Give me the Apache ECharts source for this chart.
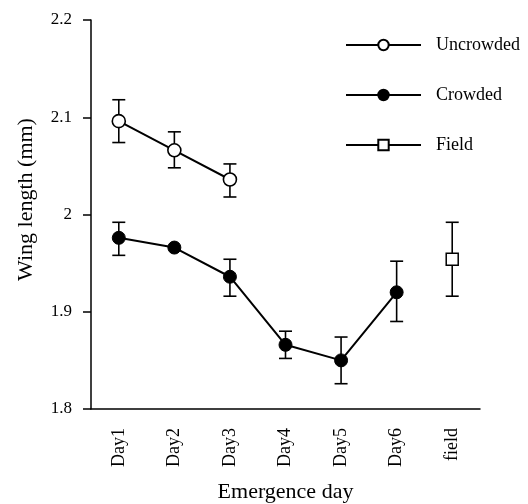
<!DOCTYPE html>
<html>
<head>
<meta charset="utf-8">
<script src="https://cdn.jsdelivr.net/npm/echarts@6/dist/echarts.min.js"></script>
<style>
  html, body { margin: 0; padding: 0; background: #fff; }
  #chart { width: 528px; height: 504px; }
</style>
</head>
<body>
<div id="chart"></div>
<script>
var days = ['Day1', 'Day2', 'Day3', 'Day4', 'Day5', 'Day6', 'field'];

// mean values (null = no point)
var uncrowded = [2.096, 2.066, 2.036, null, null, null, null];
var crowded = [1.976, 1.966, 1.936, 1.866, 1.850, 1.920, null];
var field = [null, null, null, null, null, null, 1.954];

// error bars: [category index, low, high]
var uncrowdedErr = [[0, 2.074, 2.118], [1, 2.048, 2.085], [2, 2.018, 2.052]];
var crowdedErr = [[0, 1.958, 1.992], [2, 1.916, 1.954], [3, 1.852, 1.880], [4, 1.826, 1.874], [5, 1.890, 1.952]];
var fieldErr = [[6, 1.916, 1.992]];

var fontFam = '"Liberation Serif", "DejaVu Serif", serif';

function errorBar(params, api) {
    var x = api.value(0);
    var lo = api.coord([x, api.value(1)]);
    var hi = api.coord([x, api.value(2)]);
    var half = 6.5;
    var style = { stroke: '#000', lineWidth: 1.6 };
    return {
        type: 'group',
        children: [
            { type: 'line', shape: { x1: lo[0], y1: lo[1], x2: hi[0], y2: hi[1] }, style: style },
            { type: 'line', shape: { x1: lo[0] - half, y1: lo[1], x2: lo[0] + half, y2: lo[1] }, style: style },
            { type: 'line', shape: { x1: hi[0] - half, y1: hi[1], x2: hi[0] + half, y2: hi[1] }, style: style }
        ]
    };
}

var myChart = echarts.init(document.getElementById('chart'));
var option = {
    animation: false,
    textStyle: { fontFamily: fontFam },
    grid: { left: 91, right: 48, top: 20, bottom: 95, outerBoundsMode: 'none' },
    legend: {
        orient: 'vertical',
        left: 340,
        top: 31,
        itemWidth: 75,
        itemHeight: 13,
        itemGap: 32,
        data: ['Uncrowded', 'Crowded', 'Field'],
        textStyle: { fontFamily: fontFam, fontSize: 18, color: '#000', padding: [0, 0, 0, 10] }
    },
    xAxis: {
        type: 'category',
        data: days,
        boundaryGap: true,
        name: 'Emergence day',
        nameLocation: 'middle',
        nameGap: 72,
        nameTextStyle: { fontFamily: fontFam, fontSize: 22, color: '#000' },
        axisLine: { lineStyle: { color: '#000', width: 1.5 } },
        axisTick: { alignWithLabel: true, length: 8, lineStyle: { color: '#000', width: 1.5 } },
        axisLabel: { rotate: 90, margin: 19, fontFamily: fontFam, fontSize: 18, color: '#000' },
        splitLine: { show: false }
    },
    yAxis: {
        type: 'value',
        min: 1.8,
        max: 2.2,
        interval: 0.1,
        name: 'Wing length (mm)',
        nameLocation: 'middle',
        nameGap: 54,
        nameTextStyle: { fontFamily: fontFam, fontSize: 22, color: '#000', padding: [0, 0, 0, 30] },
        axisLine: { show: true, lineStyle: { color: '#000', width: 1.5 } },
        axisTick: { show: true, length: 8, lineStyle: { color: '#000', width: 1.5 } },
        axisLabel: { margin: 19, fontFamily: fontFam, fontSize: 17, color: '#000' },
        splitLine: { show: false }
    },
    series: [
        {
            name: 'Uncrowded err', type: 'custom', renderItem: errorBar,
            data: uncrowdedErr, z: 1
        },
        {
            name: 'Crowded err', type: 'custom', renderItem: errorBar,
            data: crowdedErr, z: 1
        },
        {
            name: 'Field err', type: 'custom', renderItem: errorBar,
            data: fieldErr, z: 1
        },
        {
            name: 'Uncrowded', type: 'line', data: uncrowded, z: 3,
            symbol: 'circle', symbolSize: 13,
            lineStyle: { color: '#000', width: 2 },
            itemStyle: { color: '#fff', borderColor: '#000', borderWidth: 1.6 }
        },
        {
            name: 'Crowded', type: 'line', data: crowded, z: 3,
            symbol: 'circle', symbolSize: 13,
            lineStyle: { color: '#000', width: 2 },
            itemStyle: { color: '#000', borderColor: '#000', borderWidth: 1 }
        },
        {
            name: 'Field', type: 'line', data: field, z: 3,
            symbol: 'rect', symbolSize: 12,
            lineStyle: { color: '#000', width: 1.5 },
            itemStyle: { color: '#fff', borderColor: '#000', borderWidth: 1.5 }
        }
    ]
};
myChart.setOption(option);
</script>
</body>
</html>
